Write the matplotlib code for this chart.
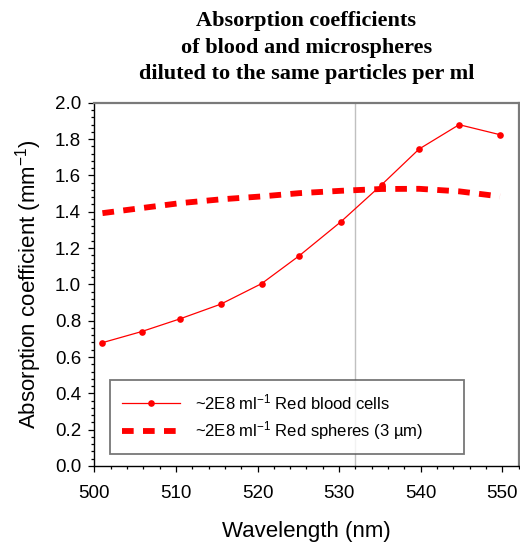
import matplotlib
matplotlib.use("Agg")
import matplotlib.pyplot as plt
from matplotlib.ticker import MultipleLocator, FormatStrFormatter

plt.rcParams['font.family'] = ['Liberation Sans', 'DejaVu Sans']
plt.rcParams['mathtext.default'] = 'regular'

# Wavelengths (nm) and absorption coefficients (mm^-1)
wavelength = [501.0, 505.8, 510.5, 515.5, 520.5, 525.1, 530.2, 535.2, 539.8, 544.7, 549.7]
rbc = [0.679, 0.740, 0.810, 0.891, 1.004, 1.157, 1.344, 1.548, 1.745, 1.879, 1.824]
spheres = [1.392, 1.420, 1.447, 1.468, 1.484, 1.502, 1.515, 1.525, 1.526, 1.512, 1.484]
laser_nm = 532.0

label_rbc = "~2E8 ml$^{-1}$ Red blood cells"
label_sph = "~2E8 ml$^{-1}$ Red spheres (3 µm)"
title = "Absorption coefficients\nof blood and microspheres\ndiluted to the same particles per ml"

fig = plt.figure(figsize=(5.2, 5.44), dpi=100)
ax = fig.add_axes([0.1813, 0.1434, 0.9975 - 0.1813, 0.8112 - 0.1434])

ax.axvline(laser_nm, color='#c0c0c0', lw=1.0, zorder=1)

ax.plot(wavelength, rbc, color='red', lw=0.9, marker='o', markersize=4.8,
        markeredgewidth=0, label=label_rbc, zorder=3)
ax.plot(wavelength, spheres, color='red', lw=4.2, dashes=(2.0, 1.6),
        dash_capstyle='butt', label=label_sph, zorder=2)

ax.set_xlim(500, 552)
ax.set_ylim(0, 2.0)
ax.xaxis.set_major_locator(MultipleLocator(10))
ax.xaxis.set_minor_locator(MultipleLocator(2))
ax.yaxis.set_major_locator(MultipleLocator(0.2))
ax.yaxis.set_minor_locator(MultipleLocator(0.04))
ax.yaxis.set_major_formatter(FormatStrFormatter('%.1f'))

ax.tick_params(which='both', direction='out', top=False, right=False,
               labelsize=13.5, width=0.9, color='black')
ax.tick_params(which='major', length=4.5)
ax.tick_params(which='minor', length=2.5)
ax.tick_params(axis='x', which='major', pad=9)
ax.tick_params(axis='y', which='major', pad=5)

for side in ('left', 'bottom'):
    ax.spines[side].set_color('black')
    ax.spines[side].set_linewidth(1.0)
for side in ('top', 'right'):
    ax.spines[side].set_color('#7a7a7a')
    ax.spines[side].set_linewidth(1.6)

ax.set_xlabel("Wavelength (nm)", fontsize=16, labelpad=14)
ax.set_ylabel("Absorption coefficient (mm$^{-1}$)", fontsize=16, labelpad=8)

ax.set_title(title, fontsize=16, fontweight='bold', family='Liberation Serif',
             linespacing=1.42, pad=17)

leg = ax.legend(loc='lower left', bbox_to_anchor=(0.037, 0.033, 0.835, 0.2),
                mode='expand', borderaxespad=0, fontsize=12, handlelength=3.5,
                handletextpad=0.9, numpoints=1, fancybox=False, frameon=True,
                borderpad=0.7, labelspacing=0.45)
leg.get_frame().set_edgecolor('#555555')
leg.get_frame().set_linewidth(1.3)

fig.savefig("out.png", dpi=100)
